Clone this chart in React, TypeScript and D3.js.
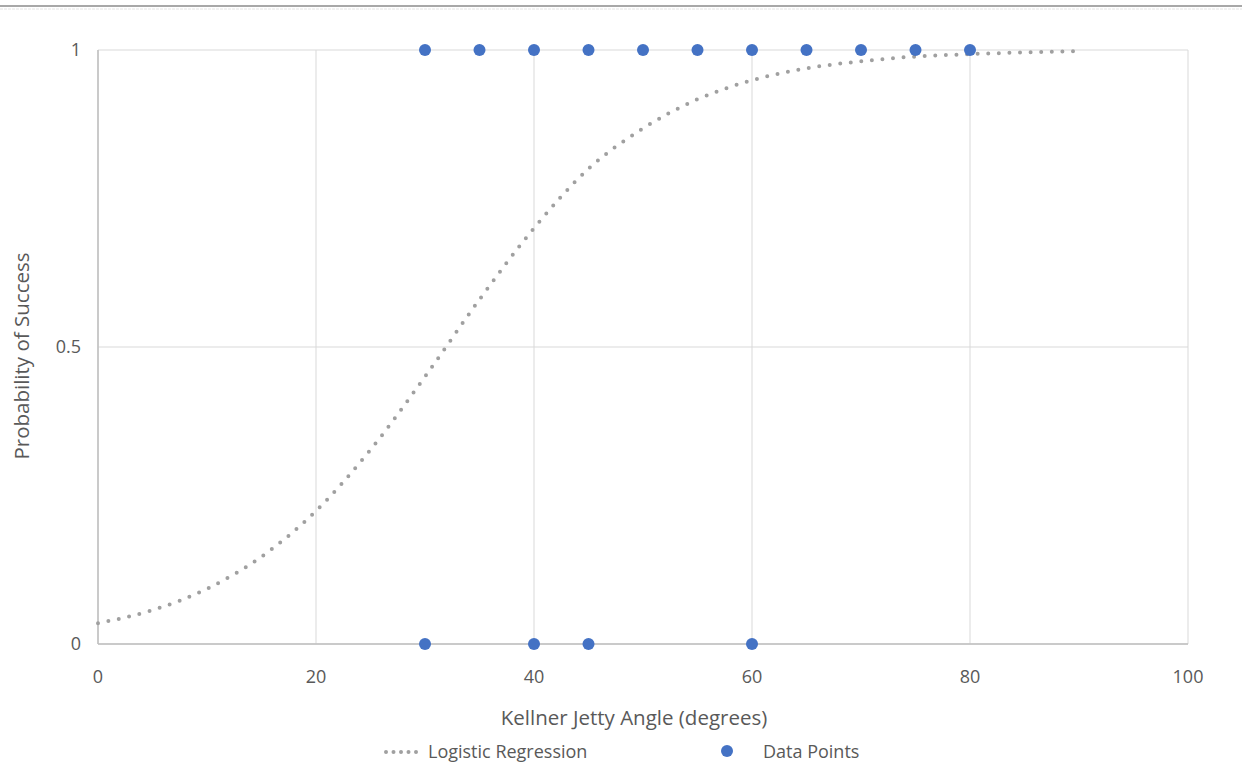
import React from 'react';
import * as d3 from 'd3';

// fitted curve, every 5 degrees
const curveAngles = [0, 5, 10, 15, 20, 25, 30, 35, 40, 45, 50, 55, 60, 65, 70, 75, 80, 85, 90];
const curveProb = [0.035, 0.057, 0.093, 0.147, 0.224, 0.327, 0.45, 0.58, 0.70, 0.80, 0.868, 0.917, 0.949, 0.969, 0.981, 0.989, 0.993, 0.996, 0.998];

// observed outcomes
const successAngles = [30, 35, 40, 45, 50, 55, 60, 65, 70, 75, 80];
const failureAngles = [30, 40, 45, 60];

const xTicks = [0, 20, 40, 60, 80, 100];
const yTicks = [0, 0.5, 1];

const W = 1242;
const H = 781;
const left = 98, right = 1188, top = 50, bottom = 644;
const font = "'Open Sans', 'Noto Sans', sans-serif";
const textColor = '#595959';
const gridColor = '#d9d9d9';
const blue = '#4472C4';

const App = () => {
    const x = d3.scaleLinear().domain([0, 100]).range([left, right]);
    const y = d3.scaleLinear().domain([0, 1]).range([bottom, top]);

    const line = d3.line<number>()
        .x((_, i) => x(curveAngles[i]))
        .y(d => y(d))
        .curve(d3.curveMonotoneX);

    const points = [
        ...successAngles.map(a => ({ a, v: 1 })),
        ...failureAngles.map(a => ({ a, v: 0 })),
    ];

    return (
        <svg width={W} height={H} style={{ position: 'absolute', left: 0, top: 0, background: '#fff' }}>
            <line x1={0} x2={W} y1={6} y2={6} stroke='#a8a8a8' strokeWidth={2} />
            <line x1={0} x2={W} y1={9} y2={9} stroke='#e4e4e4' strokeWidth={1} strokeDasharray='3,1' />

            {xTicks.map(t => (
                <line key={'gx' + t} x1={x(t)} x2={x(t)} y1={top} y2={bottom} stroke={gridColor} strokeWidth={1} />
            ))}
            {yTicks.map(t => (
                <line key={'gy' + t} x1={left} x2={right} y1={y(t)} y2={y(t)} stroke={gridColor} strokeWidth={1} />
            ))}
            <line x1={left} x2={left} y1={top} y2={bottom} stroke='#bfbfbf' strokeWidth={1.5} />
            <line x1={left} x2={right} y1={bottom} y2={bottom} stroke='#bfbfbf' strokeWidth={1.5} />

            {xTicks.map(t => (
                <text key={'tx' + t} x={x(t)} y={bottom + 39} textAnchor='middle'
                    fontFamily={font} fontSize={18} fill={textColor}>{t}</text>
            ))}
            {yTicks.map(t => (
                <text key={'ty' + t} x={left - 17} y={y(t) + 6} textAnchor='end'
                    fontFamily={font} fontSize={18} fill={textColor}>{t}</text>
            ))}

            <path d={line(curveProb) || ''} fill='none' stroke='#a0a0a0' strokeWidth={4}
                strokeLinecap='round' strokeDasharray='0,10.6' />

            {points.map((p, i) => (
                <circle key={'p' + i} cx={x(p.a)} cy={y(p.v)} r={6} fill={blue} />
            ))}

            <text x={634} y={725} textAnchor='middle'
                fontFamily={font} fontSize={20.5} fill={textColor}>Kellner Jetty Angle (degrees)</text>
            <text transform={`translate(29, 356) rotate(-90)`} textAnchor='middle'
                fontFamily={font} fontSize={20.5} fill={textColor}>Probability of Success</text>

            <line x1={386} x2={420} y1={752} y2={752} stroke='#a0a0a0' strokeWidth={4}
                strokeLinecap='round' strokeDasharray='0,7.5' />
            <text x={428} y={758} fontFamily={font} fontSize={18} fill={textColor}>Logistic Regression</text>
            <circle cx={727} cy={751} r={6} fill={blue} />
            <text x={763} y={758} fontFamily={font} fontSize={18} fill={textColor}>Data Points</text>
        </svg>
    );
};

export default App;
